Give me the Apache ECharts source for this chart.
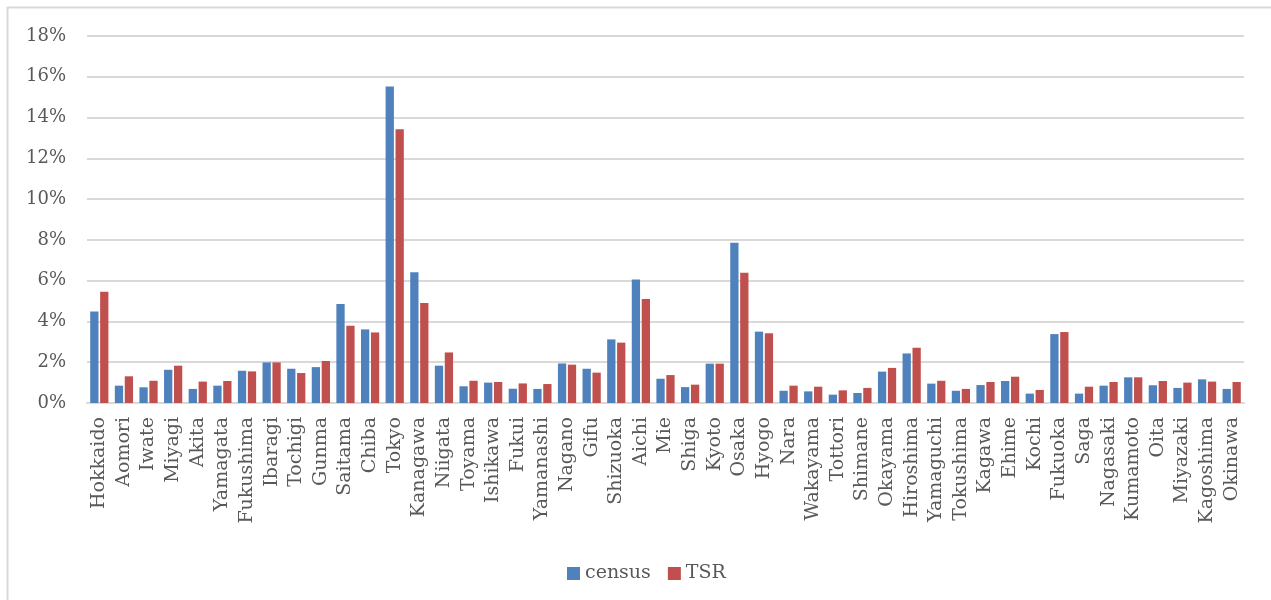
<!DOCTYPE html>
<html>
<head>
<meta charset="utf-8">
<title>census vs TSR by prefecture</title>
<script src="https://cdn.jsdelivr.net/npm/echarts@6/dist/echarts.min.js"></script>
<style>
  html, body { margin: 0; padding: 0; background: #fff; }
  #chart { width: 1271px; height: 600px; }
</style>
</head>
<body>
<div id="chart"></div>
<script>
// Prefectures in standard order
const prefectures = [
  'Hokkaido', 'Aomori', 'Iwate', 'Miyagi', 'Akita', 'Yamagata', 'Fukushima',
  'Ibaragi', 'Tochigi', 'Gunma', 'Saitama', 'Chiba', 'Tokyo', 'Kanagawa',
  'Niigata', 'Toyama', 'Ishikawa', 'Fukui', 'Yamanashi', 'Nagano', 'Gifu',
  'Shizuoka', 'Aichi', 'Mie', 'Shiga', 'Kyoto', 'Osaka', 'Hyogo', 'Nara',
  'Wakayama', 'Tottori', 'Shimane', 'Okayama', 'Hiroshima', 'Yamaguchi',
  'Tokushima', 'Kagawa', 'Ehime', 'Kochi', 'Fukuoka', 'Saga', 'Nagasaki',
  'Kumamoto', 'Oita', 'Miyazaki', 'Kagoshima', 'Okinawa'
];

// Share of the national total, in percent
const census = [
  4.49, 0.85, 0.77, 1.63, 0.69, 0.85, 1.58,
  1.99, 1.68, 1.76, 4.85, 3.61, 15.52, 6.41,
  1.83, 0.82, 1.00, 0.70, 0.69, 1.94, 1.68,
  3.12, 6.06, 1.19, 0.78, 1.93, 7.86, 3.50, 0.60,
  0.57, 0.41, 0.49, 1.54, 2.43, 0.95,
  0.60, 0.88, 1.08, 0.46, 3.38, 0.46, 0.85,
  1.26, 0.87, 0.74, 1.16, 0.69
];

const tsr = [
  5.46, 1.31, 1.09, 1.83, 1.05, 1.08, 1.55,
  1.99, 1.47, 2.06, 3.79, 3.46, 13.43, 4.90,
  2.48, 1.09, 1.03, 0.96, 0.93, 1.88, 1.49,
  2.96, 5.10, 1.37, 0.90, 1.93, 6.39, 3.42, 0.85,
  0.80, 0.62, 0.74, 1.72, 2.71, 1.09,
  0.69, 1.03, 1.29, 0.64, 3.48, 0.80, 1.03,
  1.26, 1.08, 1.00, 1.05, 1.03
];

const seriesNames = ['census', 'TSR'];
const seriesColors = ['#4F81BD', '#C0504D'];

const FONT = 'DejaVu Serif';
const TEXT = '#595959';
const LINE = '#D9D9D9';

const chart = echarts.init(document.getElementById('chart'), null, { renderer: 'canvas' });

chart.setOption({
  backgroundColor: '#ffffff',
  animation: false,
  textStyle: { fontFamily: FONT, color: TEXT },
  graphic: [{
    type: 'rect',
    silent: true,
    shape: { x: 7.5, y: 7.5, width: 1400, height: 800 },
    style: { fill: 'none', stroke: LINE, lineWidth: 2 }
  }],
  grid: { left: 87, right: 27, top: 36, bottom: 197, containLabel: false },
  legend: {
    data: seriesNames,
    left: 562,
    top: 559,
    icon: 'rect',
    itemWidth: 13,
    itemHeight: 13,
    itemGap: 17,
    textStyle: { fontFamily: FONT, fontSize: 19, color: TEXT }
  },
  xAxis: {
    type: 'category',
    data: prefectures,
    axisTick: { show: false },
    axisLine: { lineStyle: { color: LINE, width: 2 } },
    axisLabel: {
      interval: 0,
      rotate: 90,
      margin: 14,
      fontFamily: FONT,
      fontSize: 19,
      color: TEXT
    }
  },
  yAxis: {
    type: 'value',
    min: 0,
    max: 18,
    interval: 2,
    axisLine: { show: false },
    axisTick: { show: false },
    splitLine: { lineStyle: { color: LINE, width: 2 } },
    axisLabel: {
      formatter: '{value}%',
      margin: 21,
      fontFamily: FONT,
      fontSize: 18,
      color: TEXT
    }
  },
  series: [
    {
      name: seriesNames[0],
      type: 'bar',
      data: census,
      barGap: '20%',
      barCategoryGap: '26%',
      itemStyle: { color: seriesColors[0] }
    },
    {
      name: seriesNames[1],
      type: 'bar',
      data: tsr,
      barGap: '20%',
      barCategoryGap: '26%',
      itemStyle: { color: seriesColors[1] }
    }
  ]
});
</script>
</body>
</html>
